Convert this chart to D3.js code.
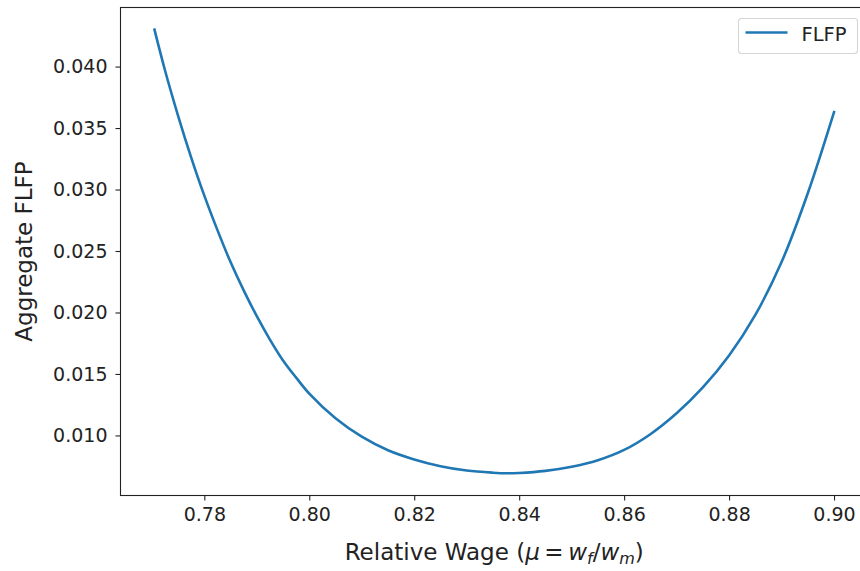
<!DOCTYPE html>
<html>
<head>
<meta charset="utf-8">
<script src="https://cdn.jsdelivr.net/npm/d3@7"></script>
<style>
  body { margin: 0; background: #fff; }
  text { font-family: "DejaVu Sans", sans-serif; fill: #222; }
</style>
</head>
<body>
<div id="chart"></div>
<script>
// relative wage (x) and aggregate FLFP (y)
const wage = [0.7705, 0.7725, 0.775, 0.7775, 0.78, 0.7825, 0.785, 0.7875, 0.79, 0.7925,
              0.795, 0.7975, 0.80, 0.805, 0.81, 0.815, 0.82, 0.825, 0.83, 0.835,
              0.8375, 0.84, 0.845, 0.85, 0.855, 0.86, 0.865, 0.87, 0.875, 0.88,
              0.885, 0.89, 0.895, 0.90];
const flfp = [0.0430, 0.0397, 0.0360, 0.0326, 0.0295, 0.0267, 0.0241, 0.0218, 0.0197, 0.0178,
              0.0161, 0.0147, 0.0134, 0.0114, 0.0099, 0.0088, 0.00805, 0.0075, 0.00715, 0.00697,
              0.00692, 0.00695, 0.00712, 0.00745, 0.00798, 0.00882, 0.0101, 0.0118, 0.0139, 0.0165,
              0.0198, 0.0241, 0.0297, 0.0363];
const xTicks = [0.78, 0.80, 0.82, 0.84, 0.86, 0.88, 0.90];
const yTicks = [0.010, 0.015, 0.020, 0.025, 0.030, 0.035, 0.040];
const seriesName = 'FLFP';

const W = 860, H = 571;
const plotL = 120.5, plotR = 868, plotT = 7.5, plotB = 495.5;

const data = wage.map((w, i) => ({x: w, y: flfp[i]}));

// matplotlib style 5% padding around the data
const xExt = d3.extent(wage), yExt = d3.extent(flfp);
const xPad = (xExt[1] - xExt[0]) * 0.05, yPad = (yExt[1] - yExt[0]) * 0.05;

const x = d3.scaleLinear()
    .domain([xExt[0] - xPad, xExt[1] + xPad])
    .range([plotL, plotR]);
const y = d3.scaleLinear()
    .domain([yExt[0] - yPad, yExt[1] + yPad])
    .range([plotB, plotT]);

const svg = d3.select('#chart').append('svg')
    .attr('width', W)
    .attr('height', H);

// the curve
svg.append('path')
    .datum(data)
    .attr('fill', 'none')
    .attr('stroke', '#1f77b4')
    .attr('stroke-width', 2.6)
    .attr('stroke-linecap', 'square')
    .attr('d', d3.line()
        .x(d => x(d.x))
        .y(d => y(d.y))
        .curve(d3.curveCatmullRom.alpha(0.5)));

// axes
const xAxis = svg.append('g')
    .attr('transform', `translate(0,${plotB})`)
    .call(d3.axisBottom(x).tickValues(xTicks).tickFormat(d3.format('.2f'))
        .tickSize(5).tickPadding(7));
const yAxis = svg.append('g')
    .attr('transform', `translate(${plotL},0)`)
    .call(d3.axisLeft(y).tickValues(yTicks).tickFormat(d3.format('.3f'))
        .tickSize(5).tickPadding(8));

[xAxis, yAxis].forEach(g => {
  g.select('.domain').remove();
  g.selectAll('.tick line').attr('stroke', '#222').attr('stroke-width', 1.1);
  g.selectAll('.tick text')
    .attr('font-size', 19)
    .attr('font-family', 'DejaVu Sans')
    .attr('fill', '#262626');
});

// frame
svg.append('rect')
    .attr('x', plotL)
    .attr('y', plotT)
    .attr('width', plotR - plotL)
    .attr('height', plotB - plotT)
    .attr('fill', 'none')
    .attr('stroke', '#222')
    .attr('stroke-width', 1.1);

// axis titles
const xl = svg.append('text')
    .attr('x', (plotL + plotR) / 2)
    .attr('y', 560)
    .attr('text-anchor', 'middle')
    .attr('font-size', 23);
xl.append('tspan').text('Relative Wage (');
xl.append('tspan').attr('font-style', 'italic').text('μ');
xl.append('tspan').text('\u2009=\u2009');
xl.append('tspan').attr('font-style', 'italic').text('w');
xl.append('tspan').attr('font-style', 'italic').attr('font-size', 16).attr('dy', 4).text('f');
xl.append('tspan').attr('dy', -4).text('/');
xl.append('tspan').attr('font-style', 'italic').text('w');
xl.append('tspan').attr('font-style', 'italic').attr('font-size', 16).attr('dy', 4).text('m');
xl.append('tspan').attr('dy', -4).text(')');

svg.append('text')
    .attr('transform', `translate(32,${(plotT + plotB) / 2}) rotate(-90)`)
    .attr('text-anchor', 'middle')
    .attr('font-size', 23)
    .text('Aggregate FLFP');

// legend
const lg = svg.append('g').attr('transform', 'translate(738.5,18.5)');
lg.append('rect')
    .attr('width', 119)
    .attr('height', 35)
    .attr('rx', 3)
    .attr('fill', '#fff')
    .attr('fill-opacity', 0.8)
    .attr('stroke', '#d6d6d6')
    .attr('stroke-width', 1.1);
lg.append('line')
    .attr('x1', 7).attr('x2', 49)
    .attr('y1', 14).attr('y2', 14)
    .attr('stroke', '#1f77b4')
    .attr('stroke-width', 2.6);
lg.append('text')
    .attr('x', 63)
    .attr('y', 22.5)
    .attr('font-size', 19.5)
    .text(seriesName);
</script>
</body>
</html>
